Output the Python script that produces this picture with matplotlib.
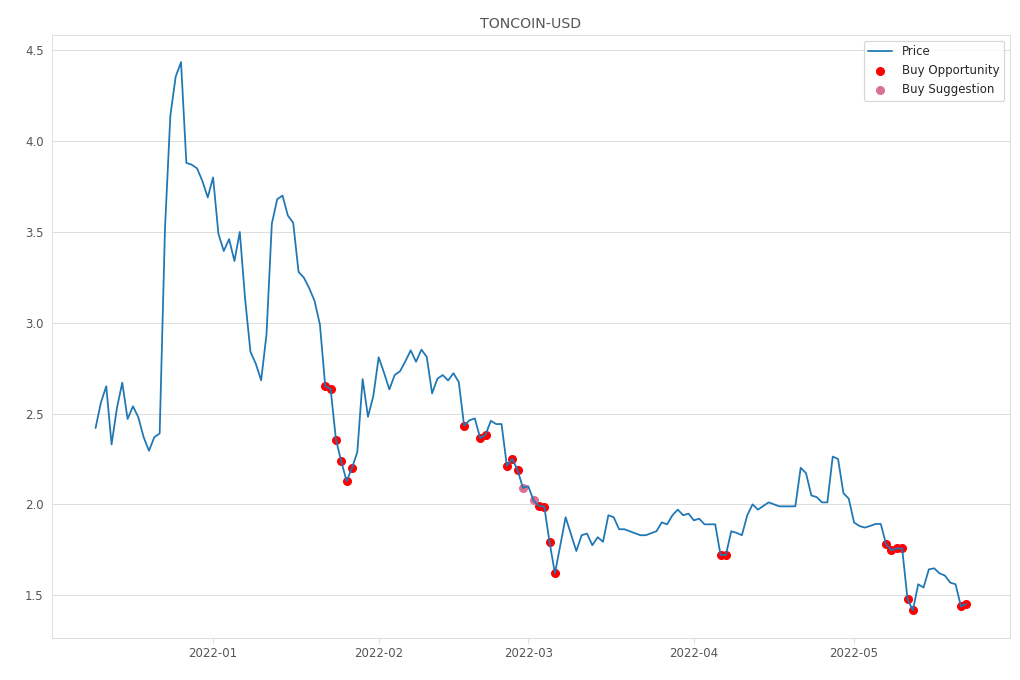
import numpy as np
import pandas as pd
import matplotlib
matplotlib.use("Agg")
import matplotlib.pyplot as plt
import seaborn as sns

# daily close, 2021-12-10 .. 2022-05-22
dates = pd.date_range("2021-12-10", periods=164, freq="D")
price = [
    2.42, 2.56, 2.65, 2.33, 2.53, 2.67, 2.47, 2.54, 2.48, 2.37,
    2.295, 2.37, 2.39, 3.52, 4.14, 4.355, 4.435, 3.88, 3.87, 3.85,
    3.78, 3.69, 3.80, 3.49, 3.395, 3.46, 3.34, 3.50, 3.13, 2.84,
    2.774, 2.683, 2.935, 3.545, 3.68, 3.70, 3.59, 3.55, 3.28, 3.248,
    3.19, 3.12, 2.99, 2.65, 2.637, 2.357, 2.236, 2.128, 2.20, 2.287,
    2.69, 2.482, 2.597, 2.81, 2.725, 2.633, 2.712, 2.733, 2.788, 2.848,
    2.785, 2.852, 2.812, 2.611, 2.692, 2.712, 2.682, 2.722, 2.673, 2.432,
    2.463, 2.473, 2.365, 2.383, 2.46, 2.442, 2.442, 2.213, 2.25, 2.19,
    2.091, 2.10, 2.022, 1.991, 1.988, 1.79, 1.62, 1.775, 1.929, 1.835,
    1.743, 1.83, 1.839, 1.775, 1.819, 1.794, 1.94, 1.929, 1.863, 1.863,
    1.852, 1.841, 1.83, 1.83, 1.841, 1.852, 1.901, 1.89, 1.94, 1.971,
    1.94, 1.949, 1.912, 1.921, 1.89, 1.89, 1.89, 1.721, 1.721, 1.852,
    1.843, 1.83, 1.94, 2.00, 1.971, 1.991, 2.011, 2.00, 1.989, 1.989,
    1.989, 1.989, 2.201, 2.172, 2.049, 2.04, 2.011, 2.011, 2.263, 2.25,
    2.062, 2.031, 1.90, 1.881, 1.872, 1.881, 1.892, 1.892, 1.779, 1.748,
    1.757, 1.757, 1.478, 1.416, 1.56, 1.542, 1.642, 1.648, 1.62, 1.608,
    1.569, 1.56, 1.438, 1.451,
]
buy_opp_idx = [43, 44, 45, 46, 47, 48, 69, 72, 73, 77, 78, 79, 83, 84, 85, 86,
               117, 118, 148, 149, 150, 151, 152, 153, 162, 163]
buy_sugg_idx = [80, 82]

df = pd.DataFrame({"Close": price}, index=dates)

sns.set_style("whitegrid")
fig, ax = plt.subplots(figsize=(12, 8), dpi=85)
ax.plot(df.index, df["Close"], label="Price")
ax.scatter(df.index[buy_opp_idx], df["Close"].iloc[buy_opp_idx],
           color="red", s=44, label="Buy Opportunity")
ax.scatter(df.index[buy_sugg_idx], df["Close"].iloc[buy_sugg_idx],
           color="palevioletred", s=44, label="Buy Suggestion")
ax.set_title("TONCOIN-USD", color="#555555", fontsize=12)
ax.xaxis.grid(False)
ax.yaxis.grid(True, color="#dddddd")
ax.tick_params(labelcolor="#555555")
ax.tick_params(axis="x", bottom=True, length=4, color="#dddddd")
for sp in ax.spines.values():
    sp.set_color("#dddddd")
ax.legend(loc="upper right")
fig.subplots_adjust(left=0.051, right=0.990, bottom=0.062, top=0.949)
fig.savefig("out.png", dpi=85)
